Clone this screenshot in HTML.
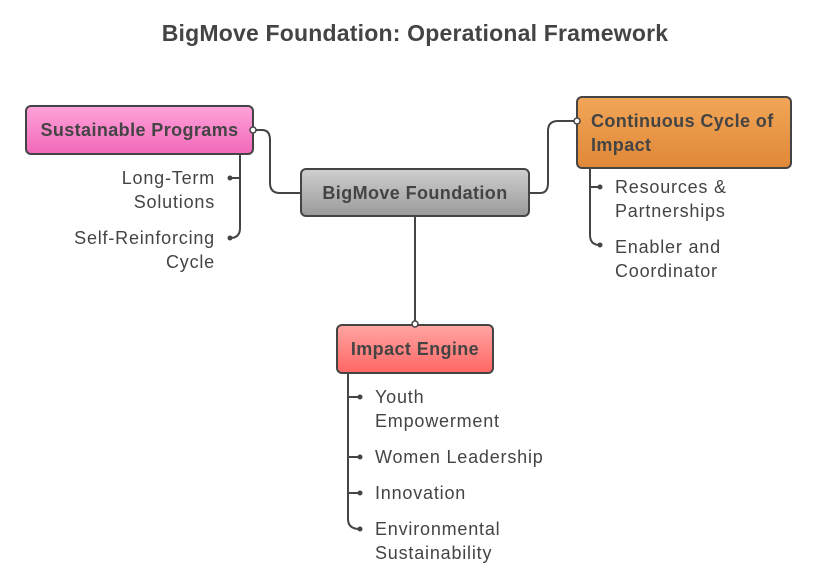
<!DOCTYPE html>
<html><head><meta charset="utf-8"><style>
body{margin:0;background:#fff;}
svg{display:block;font-family:"Liberation Sans",sans-serif;}
.t{font-size:18px;fill:#444;letter-spacing:0.8px;}
.b{font-size:18px;font-weight:bold;fill:#444;letter-spacing:0.4px;}
</style></head><body>
<svg width="830" height="580" viewBox="0 0 830 580">
<defs>
<linearGradient id="pk" x1="0" y1="0" x2="0" y2="1"><stop offset="0" stop-color="#ffa3da"/><stop offset="1" stop-color="#f268b9"/></linearGradient>
<linearGradient id="gr" x1="0" y1="0" x2="0" y2="1"><stop offset="0" stop-color="#cfcfcf"/><stop offset="1" stop-color="#9a9a9a"/></linearGradient>
<linearGradient id="or" x1="0" y1="0" x2="0" y2="1"><stop offset="0" stop-color="#f2a657"/><stop offset="1" stop-color="#df8838"/></linearGradient>
<linearGradient id="rd" x1="0" y1="0" x2="0" y2="1"><stop offset="0" stop-color="#ffa6a3"/><stop offset="1" stop-color="#ff6663"/></linearGradient>
</defs>
<text x="415" y="41" text-anchor="middle" style="font-size:23px;font-weight:bold;fill:#444;letter-spacing:0.2px">BigMove Foundation: Operational Framework</text>
<g fill="none" stroke="#444" stroke-width="2">
<path d="M253 130 H262 Q270 130 270 140 V183 Q270 193 280 193 H301"/>
<path d="M529 193 H540 Q548 193 548 183 V131 Q548 121 558 121 H577"/>
<path d="M415 216 V324"/>
<path d="M240 154 V228 Q240 238 230 238"/><path d="M240 178 H230"/>
<path d="M590 168 V235 Q590 245 600 245"/><path d="M590 187 H600"/>
<path d="M348 373 V519 Q348 529 360 529"/><path d="M348 397 H360 M348 457 H360 M348 493 H360"/>
</g>
<g fill="#444">
<circle cx="230" cy="178" r="2.5"/><circle cx="230" cy="238" r="2.5"/>
<circle cx="600" cy="187" r="2.5"/><circle cx="600" cy="245" r="2.5"/>
<circle cx="360" cy="397" r="2.5"/><circle cx="360" cy="457" r="2.5"/><circle cx="360" cy="493" r="2.5"/><circle cx="360" cy="529" r="2.5"/>
</g>
<rect x="26" y="106" width="227" height="48" rx="5" fill="url(#pk)" stroke="#444" stroke-width="2"/>
<rect x="301" y="169" width="228" height="47" rx="5" fill="url(#gr)" stroke="#444" stroke-width="2"/>
<rect x="577" y="97" width="214" height="71" rx="5" fill="url(#or)" stroke="#444" stroke-width="2"/>
<rect x="337" y="325" width="156" height="48" rx="5" fill="url(#rd)" stroke="#444" stroke-width="2"/>
<g fill="#fff" stroke="#444" stroke-width="1.5">
<circle cx="253" cy="130" r="3"/><circle cx="577" cy="121" r="3"/><circle cx="415" cy="324" r="3"/>
</g>
<text class="b" x="139.5" y="136" text-anchor="middle">Sustainable Programs</text>
<text class="b" x="415" y="199" text-anchor="middle">BigMove Foundation</text>
<text class="b" x="591" y="127">Continuous Cycle of</text>
<text class="b" x="591" y="151">Impact</text>
<text class="b" x="415" y="355" text-anchor="middle">Impact Engine</text>
<g class="t" text-anchor="end">
<text x="215" y="184">Long-Term</text><text x="215" y="208">Solutions</text>
<text x="215" y="244">Self-Reinforcing</text><text x="215" y="268">Cycle</text>
</g>
<g class="t">
<text x="615" y="193">Resources &amp;</text><text x="615" y="217">Partnerships</text>
<text x="615" y="253">Enabler and</text><text x="615" y="277">Coordinator</text>
<text x="375" y="403">Youth</text><text x="375" y="427">Empowerment</text>
<text x="375" y="463">Women Leadership</text>
<text x="375" y="499">Innovation</text>
<text x="375" y="535">Environmental</text><text x="375" y="559">Sustainability</text>
</g>
</svg>
</body></html>
